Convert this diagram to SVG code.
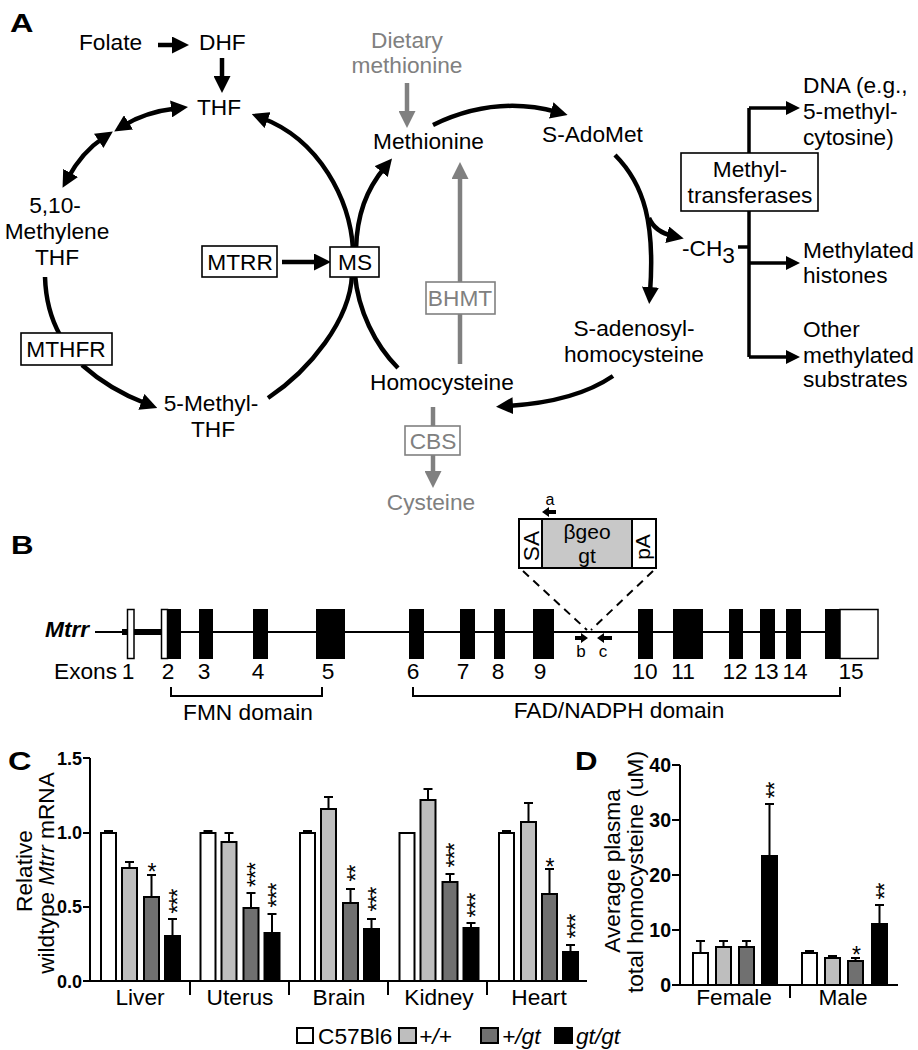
<svg xmlns="http://www.w3.org/2000/svg" width="918" height="1050" viewBox="0 0 918 1050">
<defs>
<style>
text{font-family:"Liberation Sans",Arial,sans-serif;font-size:22.7px;fill:#000}
.g{fill:#808080}
.lbl{font-weight:bold;font-size:26px}
.tick{font-weight:bold;font-size:18px}
.tickd{font-weight:bold;font-size:19.5px}
.star{font-size:23px;letter-spacing:-1px}
.arc{fill:none;stroke:#000;stroke-width:4.5}
.garc{fill:none;stroke:#808080;stroke-width:4.5}
.box{fill:#fff;stroke:#000;stroke-width:1.6}
.gbox{fill:#fff;stroke:#808080;stroke-width:1.6}
.ln{fill:none;stroke:#000;stroke-width:2}
.br{fill:none;stroke:#000;stroke-width:3.5}
.bw{fill:#fff;stroke:#000;stroke-width:2}
.bl{fill:#bebebe;stroke:#000;stroke-width:2}
.bd{fill:#707070;stroke:#000;stroke-width:2}
.bk{fill:#000;stroke:#000;stroke-width:2}
.ex{fill:#000}
.mid{text-anchor:middle}
</style>
<marker id="ah" viewBox="0 0 17 17" refX="6" refY="8.5" markerWidth="17" markerHeight="17" markerUnits="userSpaceOnUse" orient="auto-start-reverse"><path d="M0,0 L17,8.5 L0,17 z" fill="#000"/></marker>
<marker id="ahg" viewBox="0 0 17 17" refX="6" refY="8.5" markerWidth="17" markerHeight="17" markerUnits="userSpaceOnUse" orient="auto"><path d="M0,0 L17,8.5 L0,17 z" fill="#808080"/></marker>
<marker id="ah2" viewBox="0 0 14 14" refX="4" refY="7" markerWidth="14" markerHeight="14" markerUnits="userSpaceOnUse" orient="auto"><path d="M0,0 L14,7 L0,14 z" fill="#000"/></marker>
</defs>
<rect width="918" height="1050" fill="#fff"/>

<!-- Panel labels -->
<text class="lbl" transform="translate(10,32) scale(1.25,1)">A</text>
<text class="lbl" transform="translate(11,554) scale(1.2,1)">B</text>
<text class="lbl" transform="translate(8,770) scale(1.25,1)">C</text>
<text class="lbl" transform="translate(575,770) scale(1.2,1)">D</text>

<!-- Panel A connectors -->
<g id="connectors-A">
<path class="arc" d="M158,45 L178,45" marker-end="url(#ah)"/>
<path class="arc" d="M222,58 L222,82" marker-end="url(#ah)"/>
<path class="arc" d="M123.5,125.6 Q145,112 177.1,108.2" marker-start="url(#ah)" marker-end="url(#ah)"/>
<path class="arc" d="M103.7,137.5 Q82,152 67.8,178.2" marker-start="url(#ah)" marker-end="url(#ah)"/>
<path class="arc" d="M353,249 C350,200 320,140 262,118" marker-end="url(#ah)"/>
<path class="arc" d="M356,249 C357,215 366,190 385,167" marker-end="url(#ah)"/>
<path class="arc" d="M352,275 C350,320 310,370 268,398"/>
<path class="arc" d="M355,275 C358,310 375,345 398,368"/>
<path class="arc" d="M45,277 Q46,310 60,335"/>
<path class="arc" d="M82,365 Q110,390 147,404" marker-end="url(#ah)"/>
<path class="arc" d="M282,262 L320,262" marker-end="url(#ah)"/>
<path class="arc" d="M433,125 Q495,95 557,112" marker-end="url(#ah)"/>
<path class="arc" d="M615,155 C645,185 655,225 650,293" marker-end="url(#ah)"/>
<path class="arc" d="M649,218 Q655,232 673,236" marker-end="url(#ah)"/>
<path class="arc" d="M613,376 Q575,402 507,406" marker-end="url(#ah)"/>
<path class="garc" d="M407,83 L407,117" marker-end="url(#ahg)"/>
<path class="garc" d="M460,282 L460,173" marker-end="url(#ahg)"/>
<path class="garc" d="M460,314 L460,364"/>
<path class="garc" d="M433,407 L433,426"/>
<path class="garc" d="M433,455 L433,477" marker-end="url(#ahg)"/>
<path class="br" d="M749,108 L749,357"/>
<path class="br" d="M738,247 L749,247"/>
<path class="br" d="M749,108 L790,108" marker-end="url(#ah2)"/>
<path class="br" d="M749,263 L790,263" marker-end="url(#ah2)"/>
<path class="br" d="M749,357 L790,357" marker-end="url(#ah2)"/>
</g>

<!-- Panel A nodes -->
<g id="folate"><text x="79" y="50">Folate</text></g>
<g id="dhf"><text x="199" y="50">DHF</text></g>
<g id="thf"><text x="197" y="115">THF</text></g>
<g id="methylene-thf"><text class="mid" x="55" y="213">5,10-</text><text class="mid" x="57" y="239">Methylene</text><text class="mid" x="57" y="265">THF</text></g>
<g id="mtrr"><rect class="box" x="202" y="246" width="75" height="31"/><text class="mid" x="240" y="270">MTRR</text></g>
<g id="ms"><rect class="box" x="330" y="247" width="49" height="30"/><text class="mid" x="355" y="270">MS</text></g>
<g id="mthfr"><rect class="box" x="21" y="333" width="91" height="32"/><text class="mid" x="66" y="357">MTHFR</text></g>
<g id="methyl-thf"><text class="mid" x="211" y="411">5-Methyl-</text><text class="mid" x="213" y="437">THF</text></g>
<g id="dietary"><text class="mid g" x="407" y="48">Dietary</text><text class="mid g" x="407" y="73">methionine</text></g>
<g id="methionine"><text x="373" y="149">Methionine</text></g>
<g id="sadomet"><text x="542" y="142">S-AdoMet</text></g>
<g id="bhmt"><rect class="gbox" x="426" y="282" width="69" height="32"/><text class="mid g" x="460" y="306">BHMT</text></g>
<g id="homocysteine"><text x="370" y="390">Homocysteine</text></g>
<g id="cbs"><rect class="gbox" x="405" y="426" width="55" height="29"/><text class="mid g" x="433" y="449">CBS</text></g>
<g id="cysteine"><text class="mid g" x="431" y="510">Cysteine</text></g>
<g id="sah"><text class="mid" x="634" y="336">S-adenosyl-</text><text class="mid" x="634" y="362">homocysteine</text></g>
<g id="ch3"><text x="682" y="256">-CH<tspan dy="7">3</tspan></text></g>
<g id="methyltransferases"><rect class="box" x="681" y="153" width="137" height="58"/><text class="mid" x="750" y="177">Methyl-</text><text class="mid" x="750" y="203">transferases</text></g>
<g id="dna"><text x="803" y="93">DNA (e.g.,</text><text x="803" y="119">5-methyl-</text><text x="803" y="145">cytosine)</text></g>
<g id="histones"><text x="803" y="258">Methylated</text><text x="803" y="283">histones</text></g>
<g id="other"><text x="803" y="337">Other</text><text x="803" y="363">methylated</text><text x="803" y="387">substrates</text></g>

<!-- Panel B -->
<g id="gene">
<text x="45" y="637" style="font-weight:bold;font-style:italic">Mtrr</text>
<line class="ln" x1="95" y1="632" x2="825" y2="632"/>
<rect x="122" y="629" width="5" height="6" fill="#000"/>
<rect x="134" y="629" width="27" height="6" fill="#000"/>
<rect x="127.5" y="609.5" width="6.5" height="49" fill="#fff" stroke="#000" stroke-width="1.5"/>
<rect x="161.5" y="609.5" width="6" height="49" fill="#fff" stroke="#000" stroke-width="1.5"/>
<rect class="ex" x="167" y="609" width="14" height="50"/>
<rect class="ex" x="199" y="609" width="14" height="50"/>
<rect class="ex" x="253" y="609" width="15" height="50"/>
<rect class="ex" x="316" y="609" width="29" height="50"/>
<rect class="ex" x="409" y="609" width="15" height="50"/>
<rect class="ex" x="460" y="609" width="15" height="50"/>
<rect class="ex" x="494" y="609" width="11" height="50"/>
<rect class="ex" x="533" y="609" width="21" height="50"/>
<rect class="ex" x="638" y="609" width="15" height="50"/>
<rect class="ex" x="673" y="609" width="30" height="50"/>
<rect class="ex" x="729" y="609" width="14" height="50"/>
<rect class="ex" x="760" y="609" width="15" height="50"/>
<rect class="ex" x="786" y="609" width="15" height="50"/>
<rect class="ex" x="825" y="609" width="15" height="50"/>
<rect x="840" y="609.5" width="38" height="49" fill="#fff" stroke="#000" stroke-width="1.5"/>
<text x="54" y="679">Exons</text>
<text class="mid" x="128" y="679">1</text>
<text class="mid" x="168" y="679">2</text>
<text class="mid" x="204" y="679">3</text>
<text class="mid" x="258" y="679">4</text>
<text class="mid" x="328" y="679">5</text>
<text class="mid" x="413" y="679">6</text>
<text class="mid" x="463" y="679">7</text>
<text class="mid" x="498" y="679">8</text>
<text class="mid" x="540" y="679">9</text>
<text class="mid" x="645" y="679">10</text>
<text class="mid" x="683" y="679">11</text>
<text class="mid" x="735" y="679">12</text>
<text class="mid" x="766" y="679">13</text>
<text class="mid" x="795" y="679">14</text>
<text class="mid" x="851" y="679">15</text>
<path class="ln" d="M171,687 L171,696 L322,696 L322,687"/>
<path class="ln" d="M413,687 L413,696 L840,696 L840,687"/>
<text class="mid" x="248" y="720">FMN domain</text>
<text class="mid" x="619" y="718">FAD/NADPH domain</text>
</g>
<g id="insert">
<rect x="519" y="519" width="137" height="49" fill="#fff" stroke="#000" stroke-width="2"/>
<rect x="542" y="519" width="90" height="49" fill="#c8c8c8" stroke="#000" stroke-width="2"/>
<text class="mid" x="587" y="539" style="font-size:21px">βgeo</text>
<text class="mid" x="587" y="563" style="font-size:21px">gt</text>
<text class="mid" transform="translate(539,546) rotate(-90)">SA</text>
<text class="mid" transform="translate(650,547) rotate(-90)" style="font-size:21px">pA</text>
<path d="M523,571 L587,630 M653,571 L591,630" fill="none" stroke="#000" stroke-width="2" stroke-dasharray="8,6"/>
<path d="M542,512 L549,507 L549,510 L556,510 L556,514 L549,514 L549,517 Z" fill="#000"/>
<text class="mid" x="550" y="505" style="font-size:16px">a</text>
<path d="M588,638 L581,633 L581,636 L575,636 L575,640 L581,640 L581,643 Z" fill="#000"/>
<text class="mid" x="581" y="657" style="font-size:17px">b</text>
<path d="M597,638 L604,633 L604,636 L612,636 L612,640 L604,640 L604,643 Z" fill="#000"/>
<text class="mid" x="603" y="657" style="font-size:17px">c</text>
</g>

<!-- Panel C -->
<g id="chart-C">
<path class="ln" d="M90,758 L90,981 L587,981"/>
<path class="ln" d="M83,758 L90,758 M83,833 L90,833 M83,907 L90,907 M83,981 L90,981"/>
<path class="ln" d="M190,981 L190,995 M289,981 L289,995 M388,981 L388,995 M487,981 L487,995"/>
<text class="tick" x="82" y="765" text-anchor="end">1.5</text>
<text class="tick" x="82" y="839" text-anchor="end">1.0</text>
<text class="tick" x="82" y="913" text-anchor="end">0.5</text>
<text class="tick" x="82" y="988" text-anchor="end">0.0</text>
<text class="mid" transform="translate(32,871) rotate(-90)">Relative</text>
<text class="mid" transform="translate(54,873) rotate(-90)">wildtype <tspan style="font-style:italic">Mtrr</tspan> mRNA</text>
<!-- error bars -->
<path class="ln" d="M108.5,833 L108.5,831 M104,831 L113,831 M129.5,868 L129.5,862 M125,862 L134,862 M151.5,897 L151.5,875 M147,875 L156,875 M172.5,936 L172.5,919 M168,919 L177,919"/>
<path class="ln" d="M208,833 L208,831 M203.5,831 L212.5,831 M229,842 L229,833 M224.5,833 L233.5,833 M251,908 L251,893 M246.5,893 L255.5,893 M272,933 L272,914 M267.5,914 L276.5,914"/>
<path class="ln" d="M307.5,833 L307.5,831 M303,831 L312,831 M328.5,809 L328.5,797 M324,797 L333,797 M350.5,903 L350.5,889 M346,889 L355,889 M371.5,929 L371.5,919 M367,919 L376,919"/>
<path class="ln" d="M428,800 L428,789 M423.5,789 L432.5,789 M450,882 L450,874 M445.5,874 L454.5,874 M471,928 L471,923 M466.5,923 L475.5,923"/>
<path class="ln" d="M506.5,833 L506.5,831 M502,831 L511,831 M528.5,822 L528.5,803 M524,803 L533,803 M549.5,894 L549.5,869 M545,869 L554,869 M570.5,952 L570.5,945 M566,945 L575,945"/>
<!-- bars -->
<rect class="bw" x="101" y="833" width="15" height="148"/>
<rect class="bl" x="122" y="868" width="15" height="113"/>
<rect class="bd" x="144" y="897" width="15" height="84"/>
<rect class="bk" x="165" y="936" width="15" height="45"/>
<rect class="bw" x="200.5" y="833" width="15" height="148"/>
<rect class="bl" x="221.5" y="842" width="15" height="139"/>
<rect class="bd" x="243.5" y="908" width="15" height="73"/>
<rect class="bk" x="264.5" y="933" width="15" height="48"/>
<rect class="bw" x="300" y="833" width="15" height="148"/>
<rect class="bl" x="321" y="809" width="15" height="172"/>
<rect class="bd" x="343" y="903" width="15" height="78"/>
<rect class="bk" x="364" y="929" width="15" height="52"/>
<rect class="bw" x="399.5" y="833" width="15" height="148"/>
<rect class="bl" x="420.5" y="800" width="15" height="181"/>
<rect class="bd" x="442.5" y="882" width="15" height="99"/>
<rect class="bk" x="463.5" y="928" width="15" height="53"/>
<rect class="bw" x="499" y="833" width="15" height="148"/>
<rect class="bl" x="521" y="822" width="15" height="159"/>
<rect class="bd" x="542" y="894" width="15" height="87"/>
<rect class="bk" x="563" y="952" width="15" height="29"/>
<!-- stars -->
<text class="star mid" x="151.5" y="880">*</text>
<text class="star mid" transform="translate(185.5,901.5) rotate(-90)">***</text>
<text class="star mid" transform="translate(264,875) rotate(-90)">***</text>
<text class="star mid" transform="translate(285,895.5) rotate(-90)">***</text>
<text class="star mid" transform="translate(363.5,873.5) rotate(-90)">**</text>
<text class="star mid" transform="translate(384.5,899.5) rotate(-90)">***</text>
<text class="star mid" transform="translate(463,855.5) rotate(-90)">***</text>
<text class="star mid" transform="translate(484,905.5) rotate(-90)">***</text>
<text class="star mid" x="549.5" y="875">*</text>
<text class="star mid" transform="translate(583.5,926.5) rotate(-90)">***</text>
<text class="mid" x="140" y="1005">Liver</text>
<text class="mid" x="240" y="1005">Uterus</text>
<text class="mid" x="339" y="1005">Brain</text>
<text class="mid" x="439" y="1005">Kidney</text>
<text class="mid" x="539" y="1005">Heart</text>
</g>

<!-- Panel D -->
<g id="chart-D">
<path class="ln" d="M680,765 L680,985 L898,985"/>
<path class="ln" d="M672,765 L680,765 M672,820 L680,820 M672,875 L680,875 M672,930 L680,930 M672,985 L680,985"/>
<path class="ln" d="M790,985 L790,998"/>
<text class="tickd" x="671" y="772" text-anchor="end">40</text>
<text class="tickd" x="671" y="827" text-anchor="end">30</text>
<text class="tickd" x="671" y="882" text-anchor="end">20</text>
<text class="tickd" x="671" y="937" text-anchor="end">10</text>
<text class="tickd" x="671" y="992" text-anchor="end">0</text>
<text class="mid" transform="translate(620,871) rotate(-90)">Average plasma</text>
<text class="mid" transform="translate(643,872) rotate(-90)">total homocysteine (uM)</text>
<path class="ln" d="M700.5,953 L700.5,941 M696,941 L705,941 M723.5,947 L723.5,941 M719,941 L728,941 M746.5,947 L746.5,941 M742,941 L751,941 M769.5,856 L769.5,804 M765,804 L774,804"/>
<path class="ln" d="M809.5,953 L809.5,951 M805,951 L814,951 M832.5,958 L832.5,956 M828,956 L837,956 M855.5,961 L855.5,958 M851,958 L860,958 M879.5,924 L879.5,905 M875,905 L884,905"/>
<rect class="bw" x="693" y="953" width="15" height="32"/>
<rect class="bl" x="716" y="947" width="15" height="38"/>
<rect class="bd" x="739" y="947" width="15" height="38"/>
<rect class="bk" x="762" y="856" width="15" height="129"/>
<rect class="bw" x="802" y="953" width="15" height="32"/>
<rect class="bl" x="825" y="958" width="15" height="27"/>
<rect class="bd" x="848" y="961" width="15" height="24"/>
<rect class="bk" x="872" y="924" width="15" height="61"/>
<text class="star mid" transform="translate(782.5,790.5) rotate(-90)">**</text>
<text class="star mid" x="856" y="963">*</text>
<text class="star mid" transform="translate(892.5,891.5) rotate(-90)">**</text>
<text class="mid" x="734" y="1005">Female</text>
<text class="mid" x="843" y="1005">Male</text>
</g>

<!-- Legend -->
<g id="legend">
<rect class="bw" x="297" y="1028" width="16" height="15" stroke-width="1.5"/>
<text x="318" y="1044">C57Bl6</text>
<rect class="bl" x="399" y="1028" width="17" height="15" stroke-width="1.5"/>
<text x="419" y="1044" style="font-style:italic">+/+</text>
<rect class="bd" x="481" y="1028" width="17" height="15" stroke-width="1.5"/>
<text x="502" y="1044" style="font-style:italic">+/gt</text>
<rect class="bk" x="555" y="1028" width="17" height="15" stroke-width="1.5"/>
<text x="576" y="1044" style="font-style:italic">gt/gt</text>
</g>
</svg>
